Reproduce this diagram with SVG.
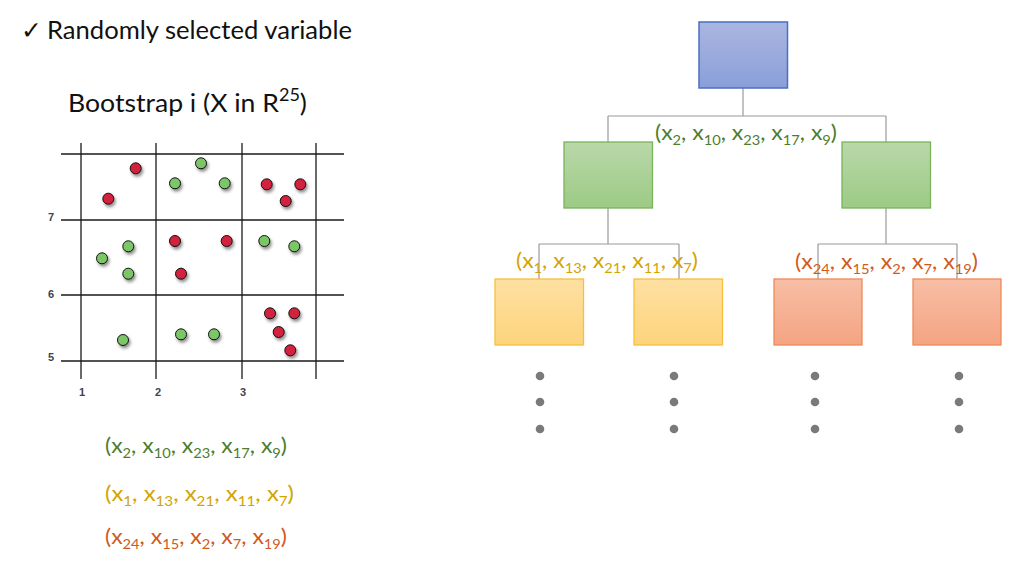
<svg xmlns="http://www.w3.org/2000/svg" width="1020" height="580" viewBox="0 0 1020 580">
<style>
.t{font-family:Lato,"Open Sans","Liberation Sans",sans-serif;fill:#111}
.f{font-family:Lato,"Open Sans","Liberation Sans",sans-serif;font-size:22px}
.s{font-size:14px}
.g{fill:#4e7d2e}
.y{fill:#d3a400}
.o{fill:#d15a1c}
.ax{font-family:"Liberation Sans",Arial,sans-serif;font-size:11px;font-weight:bold;fill:#3d4354;text-anchor:middle}
.grid line{stroke:#1a1a1a;stroke-width:1.3}
.rd{fill:#d3213c;stroke:#111;stroke-width:1;filter:url(#sh)}
.gd{fill:#7cc667;stroke:#111;stroke-width:1;filter:url(#sh)}
.conn line{stroke:#999;stroke-width:1.2}
.dot{fill:#7a7a7a}
</style>
<defs>
<filter id="sh" x="-60%" y="-60%" width="220%" height="220%">
<feDropShadow dx="1.5" dy="2.5" stdDeviation="1.6" flood-color="#000" flood-opacity="0.45"/>
</filter>
<linearGradient id="gb" x1="0" y1="0" x2="0" y2="1"><stop offset="0" stop-color="#aab6e0"/><stop offset="1" stop-color="#8a9fd9"/></linearGradient>
<linearGradient id="gg" x1="0" y1="0" x2="0" y2="1"><stop offset="0" stop-color="#b9d8a9"/><stop offset="1" stop-color="#9dca85"/></linearGradient>
<linearGradient id="gy" x1="0" y1="0" x2="0" y2="1"><stop offset="0" stop-color="#fee0a2"/><stop offset="1" stop-color="#fdd47c"/></linearGradient>
<linearGradient id="gr" x1="0" y1="0" x2="0" y2="1"><stop offset="0" stop-color="#f7bea5"/><stop offset="1" stop-color="#f4a482"/></linearGradient>
</defs>
<rect width="1020" height="580" fill="#fff"/>

<g id="title">
<text x="21" y="39" font-family="'DejaVu Sans',sans-serif" font-size="25" fill="#111">✓</text>
<text class="t" x="47" y="39" font-size="25" textLength="305" lengthAdjust="spacingAndGlyphs">Randomly selected variable</text>
</g>
<g id="subtitle">
<text class="t" x="68" y="112" font-size="25" textLength="239" lengthAdjust="spacingAndGlyphs">Bootstrap i (X in R<tspan font-size="17" dy="-11">25</tspan><tspan dy="11">)</tspan></text>
</g>

<g id="scatter">
<g class="grid">
<line x1="61" y1="154" x2="344" y2="154"/>
<line x1="61" y1="220" x2="344" y2="220"/>
<line x1="61" y1="295" x2="344" y2="295"/>
<line x1="61" y1="361" x2="344" y2="361"/>
<line x1="81" y1="143" x2="81" y2="379"/>
<line x1="156" y1="143" x2="156" y2="379"/>
<line x1="242" y1="143" x2="242" y2="379"/>
<line x1="316" y1="143" x2="316" y2="379"/>
</g>
<text class="ax" x="51" y="221">7</text>
<text class="ax" x="51" y="298">6</text>
<text class="ax" x="51" y="361">5</text>
<text class="ax" x="82" y="396">1</text>
<text class="ax" x="158" y="396">2</text>
<text class="ax" x="243" y="396">3</text>
<g>
<circle class="rd" cx="135.7" cy="168.3" r="5.5"/>
<circle class="rd" cx="108.3" cy="198.7" r="5.5"/>
<circle class="rd" cx="266.7" cy="184.3" r="5.5"/>
<circle class="rd" cx="300.3" cy="184.3" r="5.5"/>
<circle class="rd" cx="285.7" cy="201" r="5.5"/>
<circle class="rd" cx="175" cy="241" r="5.5"/>
<circle class="rd" cx="226.7" cy="241" r="5.5"/>
<circle class="rd" cx="181" cy="273.7" r="5.5"/>
<circle class="rd" cx="270" cy="313.3" r="5.5"/>
<circle class="rd" cx="294.3" cy="313.3" r="5.5"/>
<circle class="rd" cx="278.7" cy="332" r="5.5"/>
<circle class="rd" cx="290.3" cy="350.3" r="5.5"/>
<circle class="gd" cx="201" cy="163.3" r="5.5"/>
<circle class="gd" cx="175" cy="183.3" r="5.5"/>
<circle class="gd" cx="224.7" cy="183.3" r="5.5"/>
<circle class="gd" cx="264.3" cy="241" r="5.5"/>
<circle class="gd" cx="294.3" cy="246.3" r="5.5"/>
<circle class="gd" cx="128.3" cy="246.3" r="5.5"/>
<circle class="gd" cx="102" cy="258.3" r="5.5"/>
<circle class="gd" cx="128.3" cy="273.7" r="5.5"/>
<circle class="gd" cx="123" cy="340" r="5.5"/>
<circle class="gd" cx="181" cy="334.3" r="5.5"/>
<circle class="gd" cx="214" cy="334.3" r="5.5"/>
</g>
</g>

<g id="formulas">
<text class="f g" x="105" y="453" textLength="182" lengthAdjust="spacingAndGlyphs">(x<tspan class="s" dy="5">2</tspan><tspan dy="-5">, x</tspan><tspan class="s" dy="5">10</tspan><tspan dy="-5">, x</tspan><tspan class="s" dy="5">23</tspan><tspan dy="-5">, x</tspan><tspan class="s" dy="5">17</tspan><tspan dy="-5">, x</tspan><tspan class="s" dy="5">9</tspan><tspan dy="-5">)</tspan></text>
<text class="f y" x="105" y="501" textLength="189" lengthAdjust="spacingAndGlyphs">(x<tspan class="s" dy="5">1</tspan><tspan dy="-5">, x</tspan><tspan class="s" dy="5">13</tspan><tspan dy="-5">, x</tspan><tspan class="s" dy="5">21</tspan><tspan dy="-5">, x</tspan><tspan class="s" dy="5">11</tspan><tspan dy="-5">, x</tspan><tspan class="s" dy="5">7</tspan><tspan dy="-5">)</tspan></text>
<text class="f o" x="105" y="544" textLength="182" lengthAdjust="spacingAndGlyphs">(x<tspan class="s" dy="5">24</tspan><tspan dy="-5">, x</tspan><tspan class="s" dy="5">15</tspan><tspan dy="-5">, x</tspan><tspan class="s" dy="5">2</tspan><tspan dy="-5">, x</tspan><tspan class="s" dy="5">7</tspan><tspan dy="-5">, x</tspan><tspan class="s" dy="5">19</tspan><tspan dy="-5">)</tspan></text>
</g>

<g id="connectors" class="conn">
<line x1="743" y1="88" x2="743" y2="116"/>
<line x1="608" y1="116" x2="886" y2="116"/>
<line x1="608" y1="116" x2="608" y2="142"/>
<line x1="886" y1="116" x2="886" y2="142"/>
<line x1="608" y1="208" x2="608" y2="244"/>
<line x1="539" y1="244" x2="679" y2="244"/>
<line x1="539" y1="244" x2="539" y2="279"/>
<line x1="679" y1="244" x2="679" y2="279"/>
<line x1="886" y1="208" x2="886" y2="244"/>
<line x1="818" y1="244" x2="957" y2="244"/>
<line x1="818" y1="244" x2="818" y2="279"/>
<line x1="957" y1="244" x2="957" y2="279"/>
</g>

<g id="root"><rect x="699" y="22" width="88.5" height="66" fill="url(#gb)" stroke="#4a6fc4" stroke-width="1.5"/></g>
<g id="green-left"><rect x="564" y="142" width="88.5" height="66" fill="url(#gg)" stroke="#7ab35c" stroke-width="1.3"/></g>
<g id="green-right"><rect x="842" y="142" width="88.5" height="66" fill="url(#gg)" stroke="#7ab35c" stroke-width="1.3"/></g>
<g id="yellow-left"><rect x="495" y="279" width="88.5" height="66" fill="url(#gy)" stroke="#f6c03c" stroke-width="1.3"/></g>
<g id="yellow-right"><rect x="634" y="279" width="88.5" height="66" fill="url(#gy)" stroke="#f6c03c" stroke-width="1.3"/></g>
<g id="red-left"><rect x="774" y="279" width="88" height="66" fill="url(#gr)" stroke="#ef8a58" stroke-width="1.3"/></g>
<g id="red-right"><rect x="913" y="279" width="88" height="66" fill="url(#gr)" stroke="#ef8a58" stroke-width="1.3"/></g>

<g id="tree-labels">
<text class="f g" x="655" y="140" textLength="182" lengthAdjust="spacingAndGlyphs">(x<tspan class="s" dy="5">2</tspan><tspan dy="-5">, x</tspan><tspan class="s" dy="5">10</tspan><tspan dy="-5">, x</tspan><tspan class="s" dy="5">23</tspan><tspan dy="-5">, x</tspan><tspan class="s" dy="5">17</tspan><tspan dy="-5">, x</tspan><tspan class="s" dy="5">9</tspan><tspan dy="-5">)</tspan></text>
<text class="f y" x="516" y="268" textLength="182" lengthAdjust="spacingAndGlyphs">(x<tspan class="s" dy="5">1</tspan><tspan dy="-5">, x</tspan><tspan class="s" dy="5">13</tspan><tspan dy="-5">, x</tspan><tspan class="s" dy="5">21</tspan><tspan dy="-5">, x</tspan><tspan class="s" dy="5">11</tspan><tspan dy="-5">, x</tspan><tspan class="s" dy="5">7</tspan><tspan dy="-5">)</tspan></text>
<text class="f o" x="795" y="269" textLength="183" lengthAdjust="spacingAndGlyphs">(x<tspan class="s" dy="5">24</tspan><tspan dy="-5">, x</tspan><tspan class="s" dy="5">15</tspan><tspan dy="-5">, x</tspan><tspan class="s" dy="5">2</tspan><tspan dy="-5">, x</tspan><tspan class="s" dy="5">7</tspan><tspan dy="-5">, x</tspan><tspan class="s" dy="5">19</tspan><tspan dy="-5">)</tspan></text>
</g>

<g id="ellipsis">
<circle class="dot" cx="540" cy="376" r="4.3"/><circle class="dot" cx="540" cy="402" r="4.3"/><circle class="dot" cx="540" cy="429" r="4.3"/>
<circle class="dot" cx="674" cy="376" r="4.3"/><circle class="dot" cx="674" cy="402" r="4.3"/><circle class="dot" cx="674" cy="429" r="4.3"/>
<circle class="dot" cx="815" cy="376" r="4.3"/><circle class="dot" cx="815" cy="402" r="4.3"/><circle class="dot" cx="815" cy="429" r="4.3"/>
<circle class="dot" cx="959" cy="376" r="4.3"/><circle class="dot" cx="959" cy="402" r="4.3"/><circle class="dot" cx="959" cy="429" r="4.3"/>
</g>
</svg>
